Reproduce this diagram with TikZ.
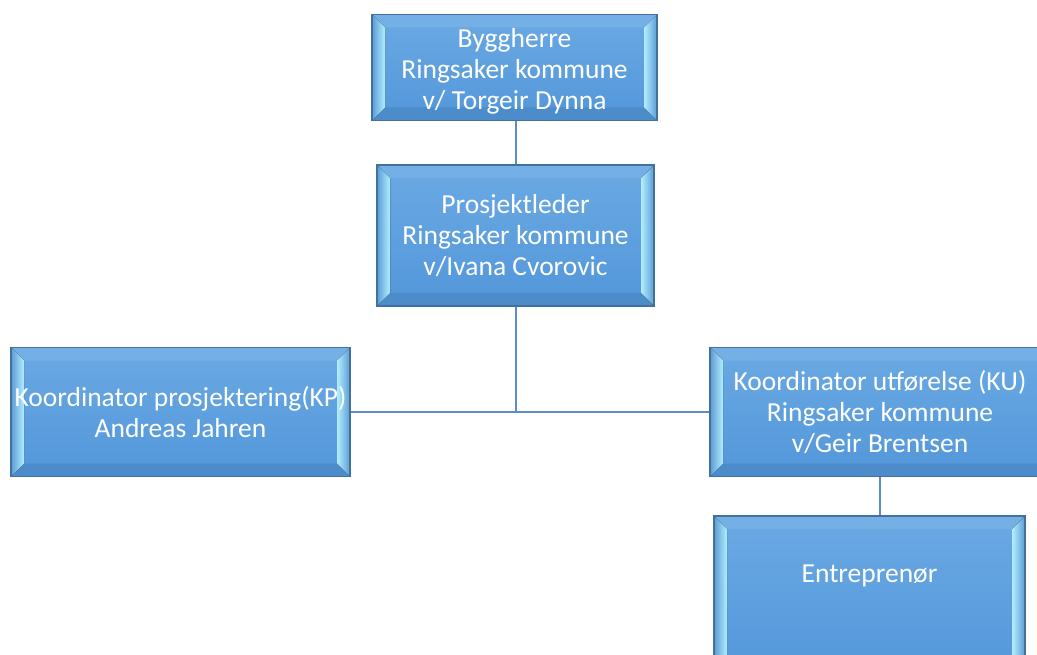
\documentclass[tikz,border=0pt]{standalone}
\usepackage{fontspec}
\setmainfont{Carlito}
\usetikzlibrary{calc}
\definecolor{facetop}{HTML}{6AA9E3}
\definecolor{facebot}{HTML}{5397DA}
\definecolor{bord}{HTML}{41719C}
\definecolor{hilite}{HTML}{B2EEFF}
\definecolor{bevtop}{HTML}{74B0E6}
\definecolor{bevbot}{HTML}{4C8CCB}
\definecolor{bevside}{HTML}{5B9BD5}
\definecolor{conn}{HTML}{5B8CC4}
\tikzset{
  bevelbox/.style={draw=bord, line width=1.3pt, inner sep=0pt,
    top color=facetop, bottom color=facebot,
    text=white, align=center, font=\fontsize{27.5}{31}\selectfont,
    path picture={
      \coordinate (nw) at (path picture bounding box.north west);
      \coordinate (ne) at (path picture bounding box.north east);
      \coordinate (sw) at (path picture bounding box.south west);
      \coordinate (se) at (path picture bounding box.south east);
      \fill[bevtop] (nw) -- (ne) -- ($(ne)+(-13,13)$) -- ($(nw)+(13,13)$) -- cycle;
      \fill[bevbot] (sw) -- (se) -- ($(se)+(-13,-13)$) -- ($(sw)+(13,-13)$) -- cycle;
      \fill[left color=bevside, right color=hilite] (nw) -- ($(nw)+(13,13)$) -- ($(sw)+(13,-13)$) -- (sw) -- cycle;
      \fill[left color=hilite, right color=bevside] (ne) -- ($(ne)+(-13,13)$) -- ($(se)+(-13,-13)$) -- (se) -- cycle;
    }},
  boxtext/.style={text=white, align=center, font=\fontsize{27.5}{31}\selectfont, inner sep=0pt},
  link/.style={draw=conn, line width=2pt}
}
\begin{document}
\begin{tikzpicture}[x=1pt, y=-1pt]
\useasboundingbox (0,0) rectangle (1037,655);
\clip (0,0) rectangle (1037,655);
\fill[white] (0,0) rectangle (1037,655);
\node[bevelbox, minimum width=285pt, minimum height=106pt] (bygg) at (514.5,67.5) {};
\node[boxtext] (byggt) at ($(bygg.center)+(0,4)$) {Byggherre\\Ringsaker kommune\\v/ Torgeir Dynna};
\node[bevelbox, minimum width=277pt, minimum height=141pt] (pl) at (515.5,235.5)
  {Prosjektleder\\Ringsaker kommune\\v/Ivana Cvorovic};
\node[bevelbox, minimum width=339pt, minimum height=129pt] (kp) at (180.5,412)
  {Koordinator prosjektering(KP)\\Andreas Jahren};
\node[bevelbox, minimum width=340pt, minimum height=129pt] (ku) at (880,412)
  {Koordinator utførelse (KU)\\Ringsaker kommune\\v/Geir Brentsen};
\node[bevelbox, minimum width=311pt, minimum height=164pt] (ent) at (869.5,598) {};
\node[boxtext] (entt) at ($(ent.center)+(0,-22)$) {Entreprenør};
\draw[link] (bygg.south -| pl.north) -- (pl.north);
\draw[link] (pl.south) -- (pl.south |- kp.east);
\draw[link] (kp.east) -- (ku.west);
\draw[link] (ku.south) -- (ku.south |- ent.north);
\end{tikzpicture}
\end{document}
